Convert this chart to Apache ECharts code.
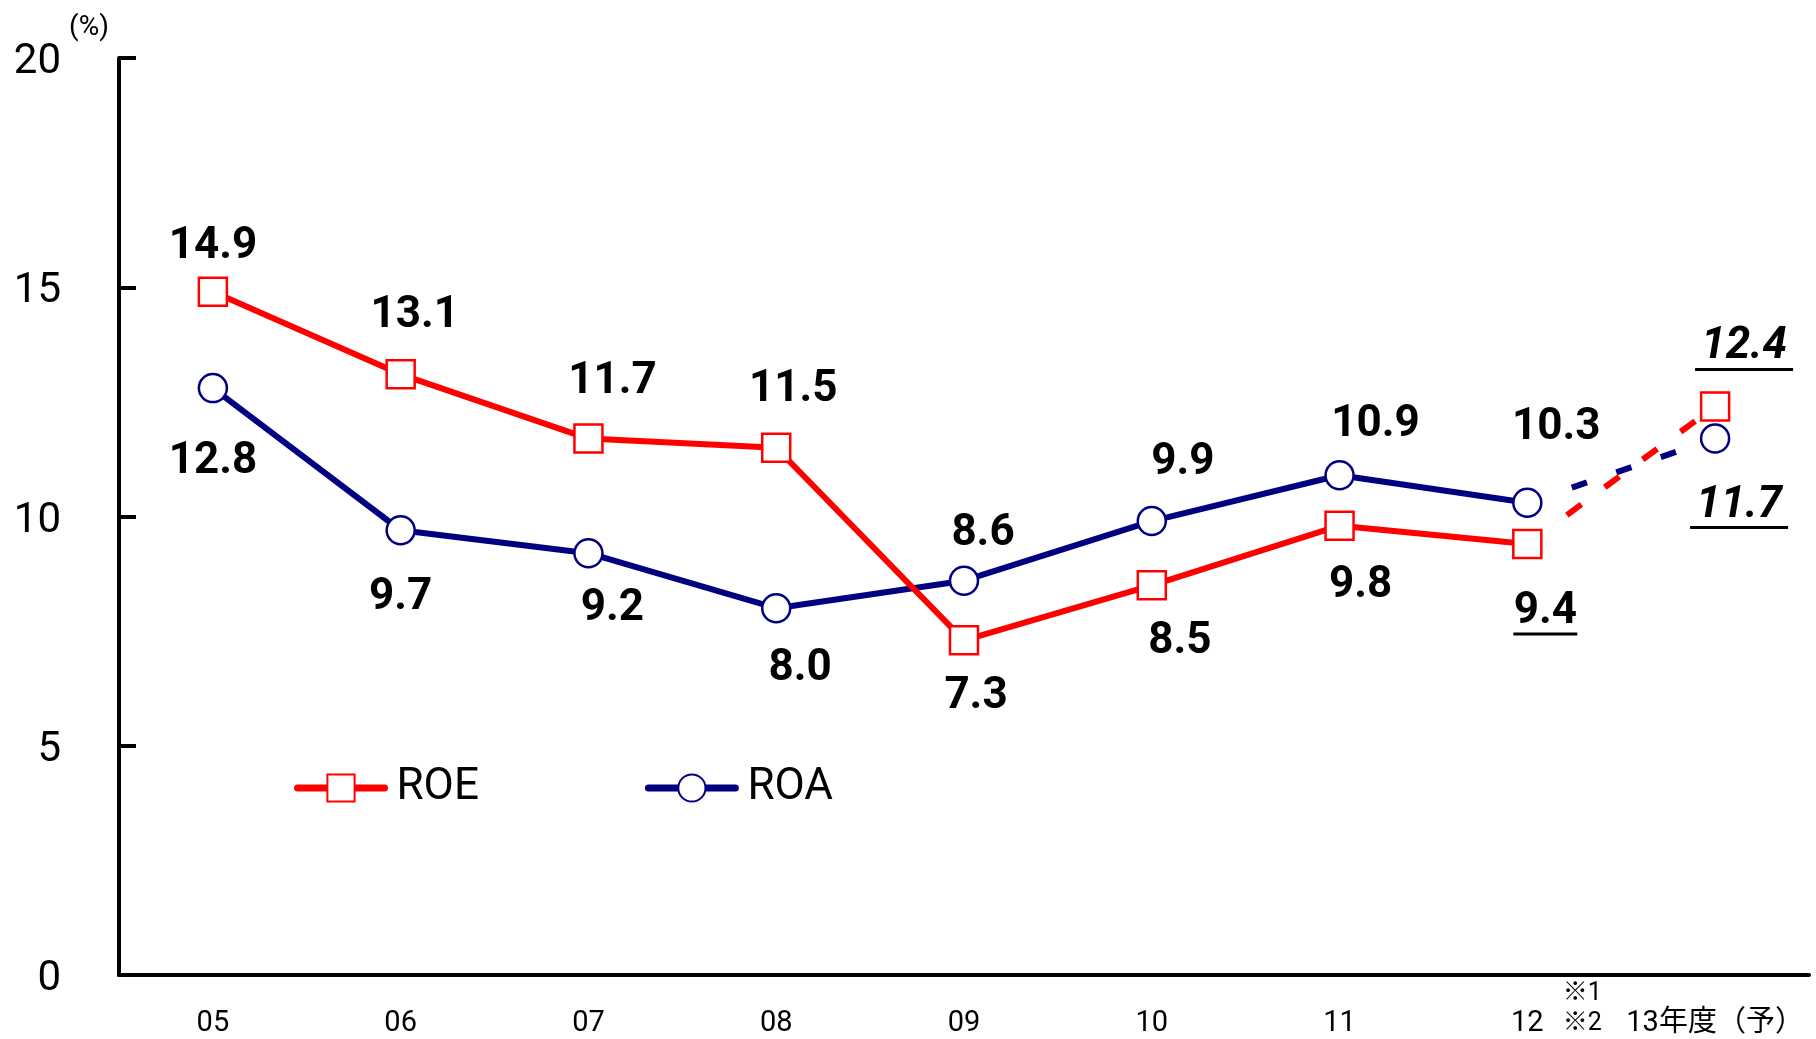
<!DOCTYPE html>
<html>
<head>
<meta charset="utf-8">
<script src="https://cdn.jsdelivr.net/npm/echarts@6/dist/echarts.min.js"></script>
<style>
  html, body { margin: 0; padding: 0; background: #fff; }
  #chart { width: 1816px; height: 1039px; }
</style>
</head>
<body>
<div id="chart"></div>
<script>
// data
const categories = ['05', '06', '07', '08', '09', '10', '11', '12', '13年度（予）'];
const roe = [14.9, 13.1, 11.7, 11.5, 7.3, 8.5, 9.8, 9.4, 12.4];
const roa = [12.8, 9.7, 9.2, 8.0, 8.6, 9.9, 10.9, 10.3, 11.7];
const lastActual = 7;   // '12' is the last actual year, '13' is the forecast
const yMin = 0, yMax = 20, yStep = 5;

// label placement (offset of label centre from the point, px)
const roeLabelPos = [[0, -45], [14, -58], [24, -57], [17, -58], [12, 57], [28, 57], [21, 60], [18, 72], [29, -55]];
const roaLabelPos = [[0, 74], [0, 68], [24, 56], [24, 61], [19, -47], [31, -58], [36, -50], [29, -75], [24, 71]];
// underlined labels: index -> [italic, underline width]
const roeUnderline = { 7: [false, 64], 8: [true, 98] };
const roaUnderline = { 8: [true, 98] };

const FONT = 'Roboto, "Noto Sans CJK JP", sans-serif';
const RED = '#ff0000', NAVY = '#000080';

function labelFor(v, pos, ul) {
  const lab = {
    show: true, position: 'inside', offset: pos,
    color: '#000', fontFamily: FONT, fontSize: 44, fontWeight: 'bold'
  };
  if (ul) {
    lab.formatter = '{t|' + v.toFixed(1) + '}\n{u| }';
    lab.rich = {
      t: { width: ul[1], align: 'center', lineHeight: 36, fontSize: 44, fontWeight: 'bold',
           fontStyle: ul[0] ? 'italic' : 'normal', fontFamily: FONT, color: '#000' },
      u: { width: ul[1], align: 'center', height: 3, lineHeight: 8, fontSize: 2, backgroundColor: '#000' }
    };
  } else {
    lab.formatter = v.toFixed(1);
  }
  return lab;
}

function solidData(vals, pos, ul) {
  const out = [];
  for (let i = 0; i <= lastActual; i++) {
    out.push({ value: vals[i], label: labelFor(vals[i], pos[i], ul[i]) });
  }
  return out;
}

function forecastData(vals, pos, ul) {
  const out = [];
  for (let i = 0; i < vals.length; i++) {
    if (i < lastActual) out.push(null);
    else if (i === lastActual) out.push({ value: vals[i], symbol: 'none', label: { show: false } });
    else out.push({ value: vals[i], label: labelFor(vals[i], pos[i], ul[i]) });
  }
  return out;
}

function lineSeries(name, color, symbol, data, lineType) {
  return {
    name: name, type: 'line', data: data,
    symbol: symbol, symbolSize: 28,
    itemStyle: { color: '#fff', borderColor: color, borderWidth: 2.5 },
    lineStyle: { color: color, width: 6, type: lineType || 'solid' },
    emphasis: { disabled: true },
    z: 3
  };
}

const chart = echarts.init(document.getElementById('chart'));
chart.setOption({
  animation: false,
  textStyle: { fontFamily: FONT },
  grid: { left: 119, right: 7, top: 58, bottom: 64, containLabel: false },
  legend: {
    data: ['ROE', 'ROA'],
    left: 289, top: 761,
    itemWidth: 87, itemHeight: 34, itemGap: 166,
    textStyle: { fontSize: 44, color: '#000', fontFamily: FONT, padding: [0, 0, 0, 7] },
    lineStyle: { width: 7, cap: 'round' }
  },
  xAxis: {
    type: 'category', data: categories, boundaryGap: true,
    axisLine: { lineStyle: { color: '#000', width: 4 } },
    axisTick: { inside: true, length: 10, lineStyle: { color: '#000', width: 3 } },
    axisLabel: {
      margin: 4, color: '#000', interval: 0,
      formatter: function (v) {
        if (v === '12') return '{sp| }{n|※1}\n{pre| }{a|12}{g| }{n|※2}';
        return '{e| }\n{b|' + v + '}';
      },
      rich: {
        a: { fontSize: 29, width: 36, lineHeight: 30, color: '#000' },
        b: { fontSize: 29, lineHeight: 30, color: '#000' },
        n: { fontSize: 25, width: 38, lineHeight: 30, color: '#000' },
        sp: { width: 110, lineHeight: 30, fontSize: 10 },
        pre: { width: 56, lineHeight: 30, fontSize: 10 },
        g: { width: 18, lineHeight: 30, fontSize: 10 },
        e: { lineHeight: 30, fontSize: 10 }
      }
    }
  },
  yAxis: {
    type: 'value', min: yMin, max: yMax, interval: yStep,
    name: '(%)', nameLocation: 'end', nameGap: 16,
    nameTextStyle: { fontSize: 28, color: '#000', padding: [0, 60, 0, 0] },
    axisLine: { show: true, lineStyle: { color: '#000', width: 4 } },
    axisTick: { show: true, inside: true, length: 17, lineStyle: { color: '#000', width: 4 } },
    splitLine: { show: false },
    axisLabel: {
      color: '#000', margin: 58,
      formatter: function (v) { return '{v|' + v + '}'; },
      rich: { v: { fontSize: 42, color: '#000', padding: [9, 0, 0, 0] } }
    }
  },
  series: [
    lineSeries('ROA', NAVY, 'circle', solidData(roa, roaLabelPos, roaUnderline)),
    lineSeries('ROE', RED, 'rect', solidData(roe, roeLabelPos, roeUnderline)),
    lineSeries('ROA予', NAVY, 'circle', forecastData(roa, roaLabelPos, roaUnderline),
      [0, 47, 16, 31, 16, 31, 16, 60]),
    lineSeries('ROE予', RED, 'rect', forecastData(roe, roeLabelPos, roeUnderline),
      [0, 49, 18, 29, 18, 29, 18, 29, 18, 60])
  ]
});
</script>
</body>
</html>
